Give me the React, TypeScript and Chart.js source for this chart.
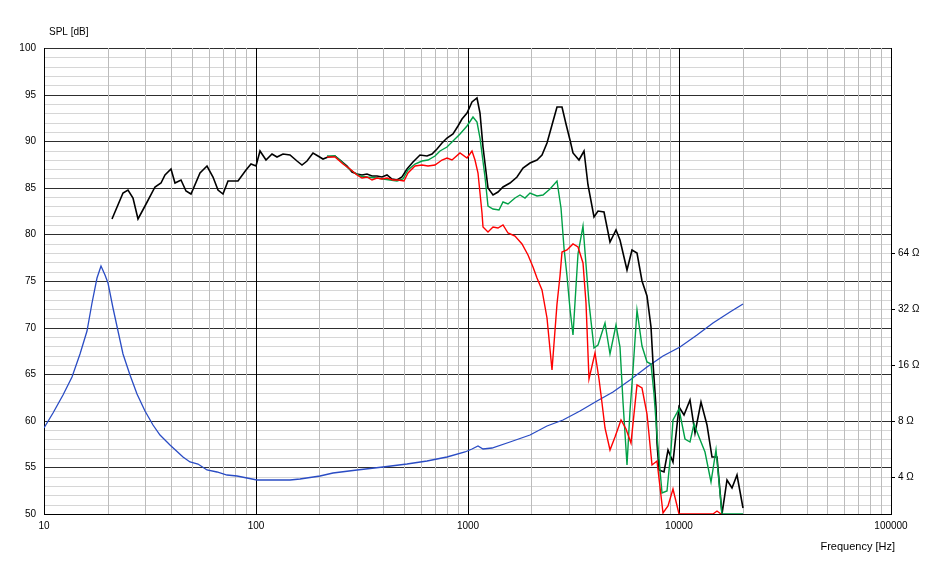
import { useEffect, useRef } from "react";
import { Chart, registerables } from "chart.js";
Chart.register(...registerables);

// ---- data ----
const blackFreq = [20.9, 23.7, 25.0, 26.2, 27.9, 30.0, 33.4, 35.6, 37.3, 39.7, 41.6, 44.2, 46.7, 49.5, 54.6, 58.7, 62.6, 66.6, 70.3, 74.2, 82.7, 90.0, 94.7, 100, 104.7, 111.4, 118.9, 125.6, 134.9, 145.1, 156.1, 164.8, 174.0, 187.0, 197.4, 208.4, 220.1, 236.7, 250.0, 268.8, 283.9, 299.7, 316.5, 334.2, 352.8, 372.6, 393.3, 415.3, 438.5, 463.0, 489, 516.4, 554.6, 596.6, 641.7, 677.5, 715.5, 755.3, 797.6, 857.1, 904.8, 939, 991, 1047, 1113, 1146, 1188, 1254, 1324, 1398, 1476, 1588, 1708, 1834, 1974, 2123, 2241, 2366, 2498, 2647, 2795, 2929, 3049, 3160, 3351, 3550, 3720, 3966, 4147, 4412, 4710, 5028, 5251, 5636, 5963, 6295, 6648, 7020, 7333, 7543, 7724, 7826, 7981, 8472, 8880, 9374, 10005, 10530, 11240, 11870, 12630, 13480, 14230, 15125, 15870, 16760, 17690, 18800, 19940];
const blackSpl = [81.7, 84.4, 84.8, 83.9, 81.7, 83.0, 85.1, 85.5, 86.4, 87.0, 85.5, 85.8, 84.7, 84.3, 86.6, 87.3, 86.2, 84.8, 84.3, 85.7, 85.7, 86.9, 87.6, 87.3, 89.0, 88.0, 88.6, 88.3, 88.6, 88.5, 87.9, 87.5, 87.9, 88.7, 88.4, 88.1, 88.3, 88.4, 88.0, 87.3, 86.7, 86.5, 86.4, 86.5, 86.3, 86.3, 86.2, 86.4, 85.9, 85.8, 86.2, 87.0, 87.8, 88.5, 88.4, 88.6, 89.2, 89.8, 90.3, 90.8, 91.6, 92.4, 93.0, 94.2, 94.6, 93.0, 89.4, 85.0, 84.2, 84.6, 85.1, 85.5, 86.2, 87.1, 87.7, 88.0, 88.5, 89.8, 91.7, 93.7, 93.7, 91.8, 90.1, 88.7, 88.0, 88.9, 85.3, 81.9, 82.5, 82.4, 79.2, 80.5, 79.4, 76.2, 78.3, 78.0, 75.0, 73.4, 70.1, 66.2, 61.5, 57.6, 54.7, 54.5, 56.9, 55.6, 61.5, 60.6, 62.2, 58.7, 62.0, 59.6, 56.1, 56.1, 50.0, 53.6, 52.8, 54.2, 50.6];

const greenFreq = [216.3, 236.7, 254.6, 273.6, 294.2, 310.7, 334.2, 372.6, 400.4, 430.5, 463.0, 497.6, 525.4, 565.0, 607.7, 653.1, 702.4, 741.6, 797.6, 857.1, 921.8, 991, 1058, 1105, 1146, 1209, 1254, 1324, 1413, 1476, 1558, 1676, 1770, 1869, 1974, 2123, 2280, 2453, 2647, 2764, 2871, 2941, 3032, 3139, 3337, 3524, 3761, 3971, 4147, 4461, 4710, 5000, 5251, 5442, 5647, 5853, 6067, 6295, 6648, 7005, 7357, 7601, 7878, 8263, 8752, 9112, 9393, 9920, 10590, 11240, 11800, 12400, 13230, 14120, 14960, 15870, 20010];
const greenSpl = [88.4, 88.4, 87.8, 87.1, 86.6, 86.3, 86.2, 86.1, 85.9, 85.8, 85.7, 85.9, 86.9, 87.6, 87.9, 88.0, 88.4, 89.0, 89.4, 90.0, 90.8, 91.6, 92.6, 92.1, 90.3, 86.2, 83.0, 82.7, 82.6, 83.5, 83.3, 83.9, 84.2, 83.9, 84.4, 84.1, 84.2, 84.9, 85.7, 82.8, 78.5, 75.5, 72.0, 69.2, 77.9, 80.9, 72.6, 67.8, 68.1, 70.5, 67.2, 70.3, 67.9, 62.0, 55.3, 61.0, 65.5, 71.9, 68.0, 66.3, 66.1, 62.9, 58.5, 52.2, 52.5, 56.9, 60.1, 61.3, 58.1, 57.7, 59.7, 58.3, 56.7, 53.4, 56.9, 50.0, 50.0];

const redFreq = [216.3, 236.7, 259.0, 278.7, 299.7, 316.5, 334.2, 352.8, 372.6, 393.3, 415.3, 446.3, 471.2, 501.3, 525.4, 565.0, 607.7, 653.1, 702.4, 755.3, 797.6, 842.3, 921.8, 991, 1047, 1085, 1125, 1167, 1188, 1254, 1324, 1398, 1476, 1558, 1676, 1803, 1937, 2045, 2129, 2241, 2366, 2498, 2638, 2735, 2804, 2960, 3160, 3337, 3499, 3627, 3749, 3980, 4178, 4303, 4461, 4710, 4973, 5280, 5575, 5886, 6295, 6648, 7043, 7413, 7826, 8383, 8880, 9374, 9920, 14430, 15080, 15740];
const redSpl = [88.3, 88.3, 87.6, 87.0, 86.4, 86.0, 86.2, 85.8, 86.0, 85.9, 86.0, 85.8, 85.8, 85.7, 86.6, 87.3, 87.4, 87.3, 87.5, 88.0, 88.2, 88.0, 88.7, 88.2, 88.9, 88.0, 86.6, 82.3, 80.8, 80.3, 80.8, 80.7, 81.0, 80.1, 79.8, 79.0, 77.8, 76.5, 75.3, 74.0, 71.0, 65.5, 72.5, 75.5, 78.1, 78.3, 79.0, 78.7, 76.9, 72.6, 64.5, 67.3, 64.5, 61.9, 59.2, 56.9, 58.3, 60.1, 59.1, 57.6, 63.8, 63.5, 60.7, 55.3, 55.7, 50.1, 50.9, 52.7, 50.0, 50.0, 50.3, 50.0];

const impFreq = [10, 11.06, 12.34, 13.51, 14.79, 15.91, 16.8, 17.74, 18.59, 19.42, 20.12, 21.25, 22.43, 23.69, 25.47, 27.41, 30.0, 32.83, 35.3, 39.36, 45.48, 48.93, 53.54, 58.7, 65.4, 72.9, 81.3, 90.7, 101, 108.6, 125.6, 145.1, 161.8, 201.1, 232.4, 299.7, 400.4, 516.4, 641.7, 797.6, 973, 1047, 1125, 1188, 1301, 1588, 1974, 2366, 2835, 3399, 4075, 4882, 5853, 7020, 8409, 10080, 12090, 14480, 17370, 19940];
const impOhm = [7.3, 8.77, 11.06, 13.77, 18.38, 24.5, 34.3, 46.9, 54.4, 48.5, 44.2, 32.4, 24.3, 18.2, 14.1, 11.2, 9.08, 7.55, 6.73, 5.93, 5.1, 4.81, 4.7, 4.34, 4.24, 4.09, 4.05, 3.95, 3.86, 3.82, 3.82, 3.82, 3.91, 4.05, 4.19, 4.34, 4.54, 4.7, 4.87, 5.1, 5.46, 5.66, 5.86, 5.66, 5.72, 6.13, 6.73, 7.46, 8.09, 8.98, 10.2, 11.4, 13.3, 15.5, 17.8, 19.9, 23.2, 26.9, 30.9, 33.9];

// ---- axis ticks ----
const freqDecades = [10, 100, 1000, 10000, 100000];
const splLabels = [50, 55, 60, 65, 70, 75, 80, 85, 90, 95, 100];
const ohmTicks = [4, 8, 16, 32, 64];
const SPL_MIN = 50;
const SPL_MAX = 100;
// impedance axis: 4 ohm sits at 54 dB, 6 dB per doubling
const OHM_MIN = 4 * Math.pow(2, (SPL_MIN - 54) / 6);
const OHM_MAX = 4 * Math.pow(2, (SPL_MAX - 54) / 6);

const FONT = '"Liberation Sans", Arial, sans-serif';

function pts(xs: number[], ys: number[]) {
  return xs.map((x, i) => ({ x, y: ys[i] }));
}

const freqTicks: number[] = [];
for (let d = 0; d < freqDecades.length - 1; d++) {
  for (let k = 1; k < 10; k++) freqTicks.push(freqDecades[d] * k);
}
freqTicks.push(freqDecades[freqDecades.length - 1]);

const splTicks: number[] = [];
for (let v = SPL_MIN; v <= SPL_MAX; v++) splTicks.push(v);

const titlesPlugin = {
  id: "axisTitles",
  afterDraw(chart: any) {
    const { ctx, chartArea } = chart;
    ctx.save();
    ctx.fillStyle = "#000";
    ctx.textBaseline = "middle";
    ctx.font = `10px ${FONT}`;
    ctx.textAlign = "left";
    ctx.fillText("SPL [dB]", chartArea.left + 5, chartArea.top - 16);
    ctx.font = `11px ${FONT}`;
    ctx.textAlign = "right";
    ctx.fillText("Frequency [Hz]", chartArea.right + 4, chartArea.bottom + 33);
    ctx.restore();
  },
};

export default function App() {
  const ref = useRef<HTMLCanvasElement | null>(null);
  useEffect(() => {
    if (!ref.current) return;
    const chart = new Chart(ref.current, {
      type: "line",
      data: {
        datasets: [
          { label: "red", data: pts(redFreq, redSpl), borderColor: "#ff0000", borderWidth: 1.4, yAxisID: "y" },
          { label: "green", data: pts(greenFreq, greenSpl), borderColor: "#00a046", borderWidth: 1.4, yAxisID: "y" },
          { label: "black", data: pts(blackFreq, blackSpl), borderColor: "#000000", borderWidth: 1.6, yAxisID: "y" },
          { label: "impedance", data: pts(impFreq, impOhm), borderColor: "#2a4cc4", borderWidth: 1.3, yAxisID: "z" },
        ] as any,
      },
      options: {
        animation: false,
        responsive: true,
        maintainAspectRatio: false,
        elements: { point: { radius: 0 }, line: { tension: 0 } },
        layout: { padding: { top: 48, left: 0, right: 0, bottom: 0 } },
        plugins: { legend: { display: false }, tooltip: { enabled: false } },
        scales: {
          x: {
            type: "logarithmic",
            position: "bottom",
            min: 10,
            max: 100000,
            bounds: "data",
            alignToPixels: true,
            afterBuildTicks: (s: any) => {
              s.ticks = freqTicks.map((v) => ({ value: v }));
            },
            afterFit: (s: any) => {
              s.height = 49;
            },
            ticks: {
              autoSkip: false,
              maxRotation: 0,
              minRotation: 0,
              padding: 6,
              color: "#000",
              font: { family: FONT, size: 10 },
              callback: (v: any) => (freqDecades.includes(Number(v)) ? String(v) : ""),
            },
            grid: {
              z: 0,
              drawTicks: false,
              lineWidth: 1,
              color: (c: any) => (freqDecades.includes(c.tick?.value) ? "#000000" : "#bcbcbc"),
            },
            border: { display: true, color: "#000", width: 1 },
          },
          y: {
            type: "linear",
            position: "left",
            min: SPL_MIN,
            max: SPL_MAX,
            bounds: "data",
            alignToPixels: true,
            afterBuildTicks: (s: any) => {
              s.ticks = splTicks.map((v) => ({ value: v }));
            },
            afterFit: (s: any) => {
              s.width = 44;
            },
            ticks: {
              autoSkip: false,
              padding: 8,
              color: "#000",
              font: { family: FONT, size: 10 },
              callback: (v: any) => (splLabels.includes(Number(v)) ? String(v) : ""),
            },
            grid: {
              z: -1,
              drawTicks: false,
              lineWidth: 1,
              color: (c: any) => (splLabels.includes(c.tick?.value) ? "#2e2e2e" : "#d6d6d6"),
            },
            border: { display: true, color: "#000", width: 1 },
          },
          z: {
            type: "logarithmic",
            position: "right",
            min: OHM_MIN,
            max: OHM_MAX,
            bounds: "data",
            alignToPixels: true,
            afterBuildTicks: (s: any) => {
              s.ticks = ohmTicks.map((v) => ({ value: v }));
            },
            afterFit: (s: any) => {
              s.width = 40;
            },
            ticks: {
              autoSkip: false,
              padding: 3,
              color: "#000",
              font: { family: FONT, size: 10 },
              callback: (v: any) => `${v} Ω`,
            },
            grid: {
              drawOnChartArea: false,
              drawTicks: true,
              tickLength: 4,
              color: "#000",
            },
            border: { display: true, color: "#000", width: 1 },
          },
        },
      } as any,
      plugins: [titlesPlugin],
    });
    return () => chart.destroy();
  }, []);

  return (
    <div style={{ position: "absolute", left: 0, top: 0, width: 931, height: 563, background: "#fff" }}>
      <canvas ref={ref} />
    </div>
  );
}
